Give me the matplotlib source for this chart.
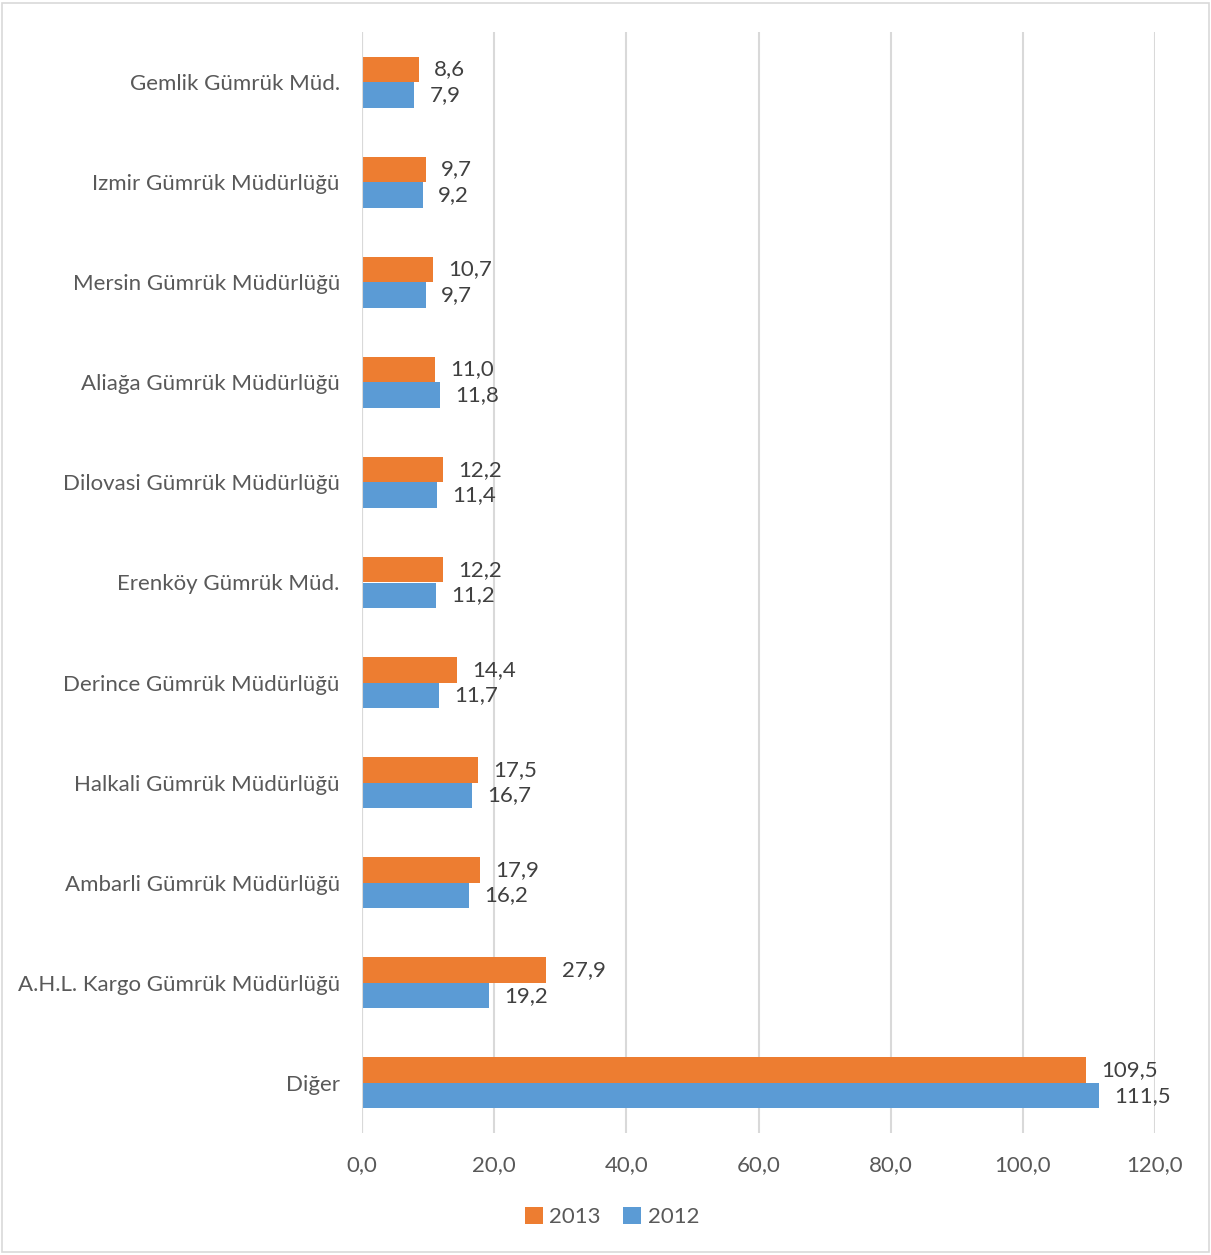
import numpy as np
import matplotlib.pyplot as plt
from matplotlib.patches import Rectangle

plt.rcParams['font.family'] = ['Lato', 'DejaVu Sans']

# categories, top to bottom as shown
categories = [
    "Gemlik Gümrük Müd.",
    "Izmir Gümrük Müdürlüğü",
    "Mersin Gümrük Müdürlüğü",
    "Aliağa Gümrük Müdürlüğü",
    "Dilovasi Gümrük Müdürlüğü",
    "Erenköy Gümrük Müd.",
    "Derince Gümrük Müdürlüğü",
    "Halkali Gümrük Müdürlüğü",
    "Ambarli Gümrük Müdürlüğü",
    "A.H.L. Kargo Gümrük Müdürlüğü",
    "Diğer",
]
values_2013 = [8.6, 9.7, 10.7, 11.0, 12.2, 12.2, 14.4, 17.5, 17.9, 27.9, 109.5]
values_2012 = [7.9, 9.2, 9.7, 11.8, 11.4, 11.2, 11.7, 16.7, 16.2, 19.2, 111.5]
x_ticks = [0, 20, 40, 60, 80, 100, 120]

c2013 = "#ed7d31"
c2012 = "#5b9bd5"
txt = "#595959"
grid = "#d9d9d9"

fig = plt.figure(figsize=(12.11, 12.55), dpi=100)
ax = fig.add_axes([362 / 1211, 1 - 1133 / 1255, (1155 - 362) / 1211, (1133 - 32) / 1255])

n = len(categories)
y = np.arange(n)
h = 0.255
ax.barh(y - h / 2, values_2013, height=h, color=c2013, label="2013", zorder=3)
ax.barh(y + h / 2, values_2012, height=h, color=c2012, label="2012", zorder=3)

for i in range(n):
    ax.text(values_2013[i] + 2.3, y[i] - h / 2, f"{values_2013[i]:.1f}".replace(".", ","),
            va="center", ha="left", fontsize=16, color="#404040")
    ax.text(values_2012[i] + 2.3, y[i] + h / 2, f"{values_2012[i]:.1f}".replace(".", ","),
            va="center", ha="left", fontsize=16, color="#404040")

ax.set_ylim(n - 0.5, -0.5)
ax.set_xlim(0, 120)
ax.set_yticks(y)
ax.set_yticklabels(categories, fontsize=16, color=txt)
ax.set_xticks(x_ticks)
ax.set_xticklabels([f"{t:.1f}".replace(".", ",") for t in x_ticks], fontsize=16, color=txt)
ax.tick_params(length=0)
ax.tick_params(axis="y", pad=16)
ax.tick_params(axis="x", pad=16)
ax.grid(axis="x", color=grid, lw=1.5, zorder=0)
for s in ax.spines.values():
    s.set_visible(False)
ax.axvline(0, color=grid, lw=1.5, zorder=4)

leg = fig.legend(loc="center", bbox_to_anchor=(612 / 1211, 1 - 1217 / 1255), ncol=2,
                 frameon=False, fontsize=16, handlelength=0.8, handleheight=0.8,
                 handletextpad=0.3, columnspacing=1.0)
for t in leg.get_texts():
    t.set_color(txt)

fig.patches.append(Rectangle((0.002, 0.002), 0.996, 0.996, transform=fig.transFigure,
                             fill=False, edgecolor="#d9d9d9", lw=1.2))

fig.savefig("out.png", dpi=100)
